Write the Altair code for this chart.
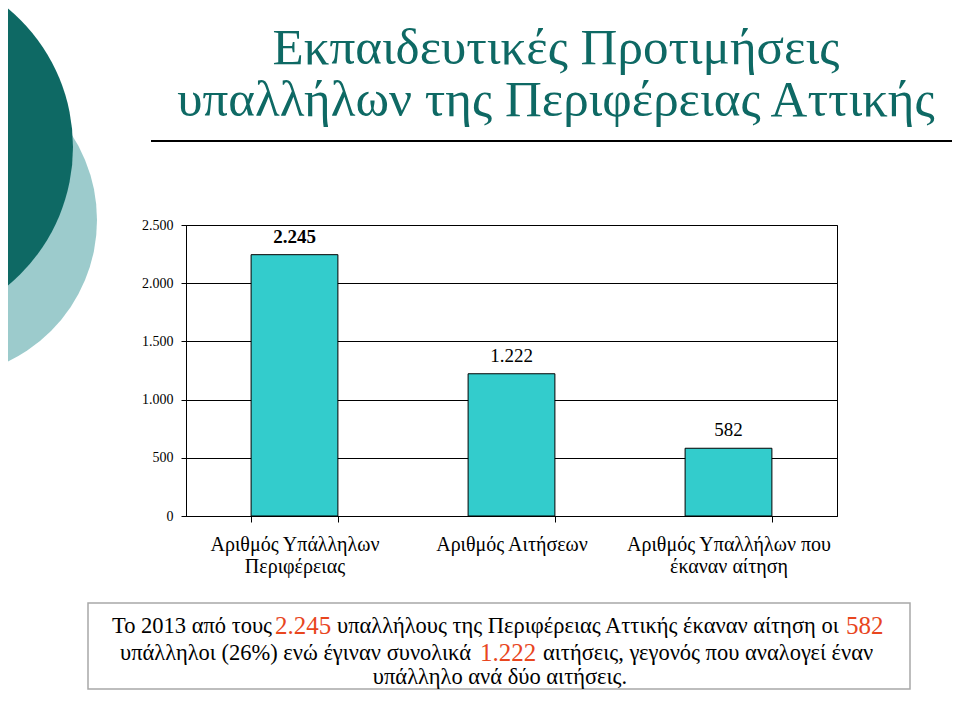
import altair as alt
import pandas as pd

# ---- data ----
categories = ["Αριθμός Υπάλληλων\nΠεριφέρειας", "Αριθμός Αιτήσεων", "Αριθμός Υπαλλήλων που\nέκαναν αίτηση"]
values = [2245, 1222, 582]
value_labels = ["2.245", "1.222", "582"]
title_lines = ["Εκπαιδευτικές Προτιμήσεις", "υπαλλήλων της Περιφέρειας Αττικής"]
note_segments = [
    # text, line, anchor x (page px), align, highlighted
    ("Το 2013 από τους", 0, 272, "right", False),
    ("2.245", 0, 275, "left", True),
    ("υπαλλήλους της Περιφέρειας Αττικής έκαναν αίτηση οι", 0, 337, "left", False),
    ("582", 0, 846, "left", True),
    ("υπάλληλοι (26%) ενώ έγιναν συνολικά", 1, 120, "left", False),
    ("1.222", 1, 480, "left", True),
    ("αιτήσεις, γεγονός που αναλογεί έναν", 1, 543, "left", False),
    ("υπάλληλο ανά δύο αιτήσεις.", 2, 500, "center", False),
]

# ---- layout (page px) ----
PX, PY = 186, 225  # plot origin on page
W, H = 651, 291

df = pd.DataFrame({"cat": categories, "value": values, "label": value_labels,
                   "idx": list(range(len(values)))})

TEAL = "#0E6964"
LIGHT = "#9CCBCC"
BAR = "#33CCCC"
ORANGE = "#E8461E"
FONT = "Liberation Serif"

one = alt.Data(values=[{"a": 1}])


def circle(cx, cy, r, color):
    return alt.Chart(one).mark_circle(color=color, opacity=1).encode(
        x=alt.value(cx - PX), y=alt.value(cy - PY), size=alt.value(4 * r * r))


deco = circle(-60, 220, 157, LIGHT) + circle(-107, 147, 180, TEAL)

title_y = [64, 116]
title_layers = [
    alt.Chart(one).mark_text(font=FONT, fontSize=51, color=TEAL, align="center",
                             baseline="alphabetic", text=t).encode(
        x=alt.value(556 - PX), y=alt.value(yy - PY))
    for t, yy in zip(title_lines, title_y)
]

underline = alt.Chart(one).mark_rule(color="black", strokeWidth=2).encode(
    x=alt.value(151 - PX), x2=alt.value(958 - PX), y=alt.value(141 - PY))

xenc = alt.X("cat:N", sort=categories, title=None,
             scale=alt.Scale(paddingInner=0.6, paddingOuter=0.3),
             axis=alt.Axis(labelExpr="split(datum.label, '\\n')", labelAngle=0,
                           labelFont=FONT, labelFontSize=20, labelColor="black",
                           labelLineHeight=22, labelPadding=12, tickBand="extent",
                           tickSize=6, tickColor="black", domainColor="black",
                           labelBaseline="top", labelLimit=400, grid=False))
yenc = alt.Y("value:Q", title=None,
             scale=alt.Scale(domain=[0, 2500], range=[H, 0], nice=False, padding=0),
             axis=alt.Axis(values=[0, 500, 1000, 1500, 2000, 2500],
                           labelExpr="replace(format(datum.value, ','), ',', '.')",
                           labelFont=FONT, labelFontSize=14, labelColor="black",
                           gridColor="black", gridOpacity=1, grid=True,
                           tickColor="black", tickSize=5, domainColor="black",
                           labelPadding=8))

bars = alt.Chart(df).mark_bar(color=BAR, stroke="black", strokeWidth=1).encode(x=xenc, y=yenc)

lab_bold = alt.Chart(df).transform_filter("datum.idx == 0").mark_text(
    font=FONT, fontSize=19, fontWeight="bold", dy=-18, color="black").encode(
    x=alt.X("cat:N", sort=categories), y="value:Q", text="label:N")
lab_norm = alt.Chart(df).transform_filter("datum.idx > 0").mark_text(
    font=FONT, fontSize=19, dy=-18, color="black").encode(
    x=alt.X("cat:N", sort=categories), y="value:Q", text="label:N")

box = alt.Chart(one).mark_rect(fill="white", stroke="#A8A8A8", strokeWidth=1.5).encode(
    x=alt.value(88 - PX), x2=alt.value(910 - PX), y=alt.value(603 - PY), y2=alt.value(689 - PY))

line_y = [626, 653, 677]
seg_layers = []
for text, ln, ax, al, hi in note_segments:
    seg_layers.append(
        alt.Chart(one).mark_text(
            font=FONT, fontSize=25 if hi else 22.5, color=ORANGE if hi else "black",
            align=al, baseline="middle", text=text).encode(
            x=alt.value(ax - PX), y=alt.value(line_y[ln] - PY)))

chart = alt.layer(deco, underline, *title_layers, bars, lab_bold, lab_norm, box, *seg_layers).properties(
    width=W, height=H, autosize="none",
    padding={"left": PX - 8, "top": PY - 8, "right": 115, "bottom": 175},
).configure_view(stroke="black", strokeWidth=1)

chart.save("out.html", embed_options={"renderer": "svg", "actions": False})
